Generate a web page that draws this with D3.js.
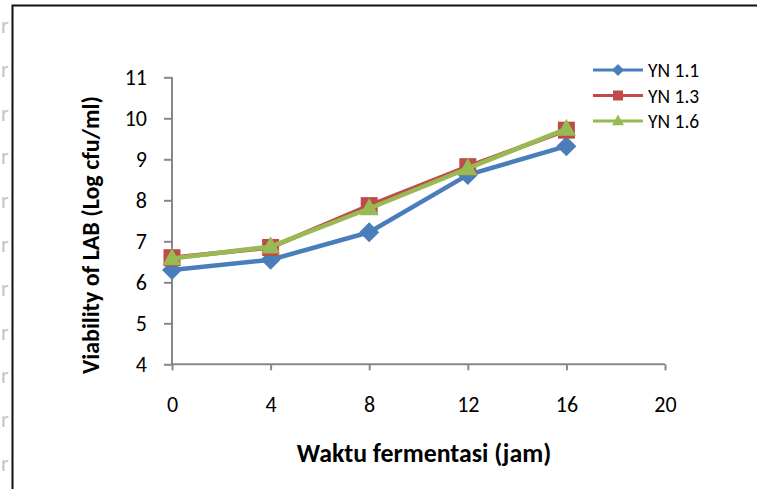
<!DOCTYPE html>
<html>
<head>
<meta charset="utf-8">
<script src="https://cdn.jsdelivr.net/npm/d3@7"></script>
<style>
  html, body { margin: 0; padding: 0; background: #fff; }
  svg { display: block; }
</style>
</head>
<body>
<svg id="chart" width="757" height="489"></svg>
<script>
// Fermentation time (hours) and LAB viability per isolate
const hours = [0, 4, 8, 12, 16];
const yn11 = [6.30, 6.55, 7.22, 8.62, 9.32];
const yn13 = [6.60, 6.85, 7.87, 8.82, 9.71];
const yn16 = [6.58, 6.87, 7.80, 8.78, 9.74];
const seriesNames = ["YN 1.1", "YN 1.3", "YN 1.6"];
const xTicks = [0, 4, 8, 12, 16, 20];
const yTicks = [4, 5, 6, 7, 8, 9, 10, 11];

const colors = ["#4A7EBB", "#BE4B48", "#98B954"];
const shapes = ["diamond", "square", "triangle"];
const series = [yn11, yn13, yn16].map((vals, i) => ({
  name: seriesNames[i], color: colors[i], shape: shapes[i],
  points: hours.map((h, j) => ({ x: h, y: vals[j] }))
}));

// Marker outline centred on (0,0); r is the half-width
function markerPath(shape, r) {
  if (shape === "diamond") return `M0,${-r}L${r},0L0,${r}L${-r},0Z`;
  if (shape === "square") return `M${-r},${-r}H${r}V${r}H${-r}Z`;
  const h = r * 1.8;
  return `M0,${-h * 0.6}L${r},${h * 0.4}L${-r},${h * 0.4}Z`;
}

const svg = d3.select("#chart");
const font = "Carlito, Calibri, 'Liberation Sans', Arial, sans-serif";

// Faint glyphs along the left page edge
const edgeGlyphs = d3.range(33, 480, 43.8);
svg.append("g").selectAll("text").data(edgeGlyphs).join("text")
  .attr("x", 1).attr("y", d => d)
  .attr("font-family", font).attr("font-size", 22)
  .attr("fill", "#c4c4c4").text("r");

// Frame around the chart
svg.append("path")
  .attr("d", "M12.5,489 L12.5,5.5 L757,5.5")
  .attr("fill", "none").attr("stroke", "#111").attr("stroke-width", 2);

const x = d3.scaleLinear().domain([0, 20]).range([172, 665]);
const y = d3.scaleLinear().domain([4, 11]).range([364.3, 77.3]);

const axisColor = "#878787";

// Y axis
const yAxis = svg.append("g").attr("transform", `translate(${x(0)},0)`)
  .call(d3.axisLeft(y).tickValues(yTicks).tickSize(8).tickPadding(17).tickFormat(d3.format("d")));
yAxis.select(".domain").attr("stroke", axisColor).attr("stroke-width", 2)
  .attr("d", `M0,${y(11)}V${y(4)}`);
yAxis.selectAll(".tick line").attr("stroke", axisColor).attr("stroke-width", 2);
yAxis.selectAll(".tick text").attr("font-family", font).attr("font-size", 22).attr("fill", "#000");

// X axis
const xAxis = svg.append("g").attr("transform", `translate(0,${y(4)})`)
  .call(d3.axisBottom(x).tickValues(xTicks).tickSize(6).tickPadding(26).tickFormat(d3.format("d")));
xAxis.select(".domain").attr("stroke", axisColor).attr("stroke-width", 2)
  .attr("d", `M${x(0)},0H${x(20)}`);
xAxis.selectAll(".tick line").attr("stroke", axisColor).attr("stroke-width", 2);
xAxis.selectAll(".tick text").attr("font-family", font).attr("font-size", 22).attr("fill", "#000");

// Axis titles
svg.append("text")
  .attr("x", 424).attr("y", 462)
  .attr("text-anchor", "middle")
  .attr("font-family", font).attr("font-size", 25.8).attr("font-weight", "bold")
  .text("Waktu fermentasi (jam)");

svg.append("text")
  .attr("transform", `translate(99,235) rotate(-90)`)
  .attr("text-anchor", "middle")
  .attr("font-family", font).attr("font-size", 24).attr("font-weight", "bold")
  .text("Viability of LAB (Log cfu/ml)");

// Series lines and markers
const line = d3.line().x(d => x(d.x)).y(d => y(d.y));
const markerHalf = { diamond: 10, square: 8.5, triangle: 9.5 };

series.forEach(s => {
  const g = svg.append("g");
  g.append("path").datum(s.points)
    .attr("d", line).attr("fill", "none")
    .attr("stroke", s.color).attr("stroke-width", 4.5)
    .attr("stroke-linejoin", "round");
  g.selectAll("path.m").data(s.points).join("path").attr("class", "m")
    .attr("transform", d => `translate(${x(d.x)},${y(d.y)})`)
    .attr("d", markerPath(s.shape, markerHalf[s.shape]))
    .attr("fill", s.color);
});

// Legend
const legend = svg.append("g");
const legendHalf = { diamond: 6, square: 5, triangle: 6 };
series.forEach((s, i) => {
  const ly = 70 + i * 25.5;
  legend.append("line")
    .attr("x1", 593).attr("x2", 643).attr("y1", ly).attr("y2", ly)
    .attr("stroke", s.color).attr("stroke-width", 3);
  legend.append("path")
    .attr("transform", `translate(618,${ly})`)
    .attr("d", markerPath(s.shape, legendHalf[s.shape]))
    .attr("fill", s.color);
  legend.append("text")
    .attr("x", 648).attr("y", ly + 7)
    .attr("font-family", font).attr("font-size", 19.5).attr("fill", "#000")
    .text(s.name);
});
</script>
</body>
</html>
